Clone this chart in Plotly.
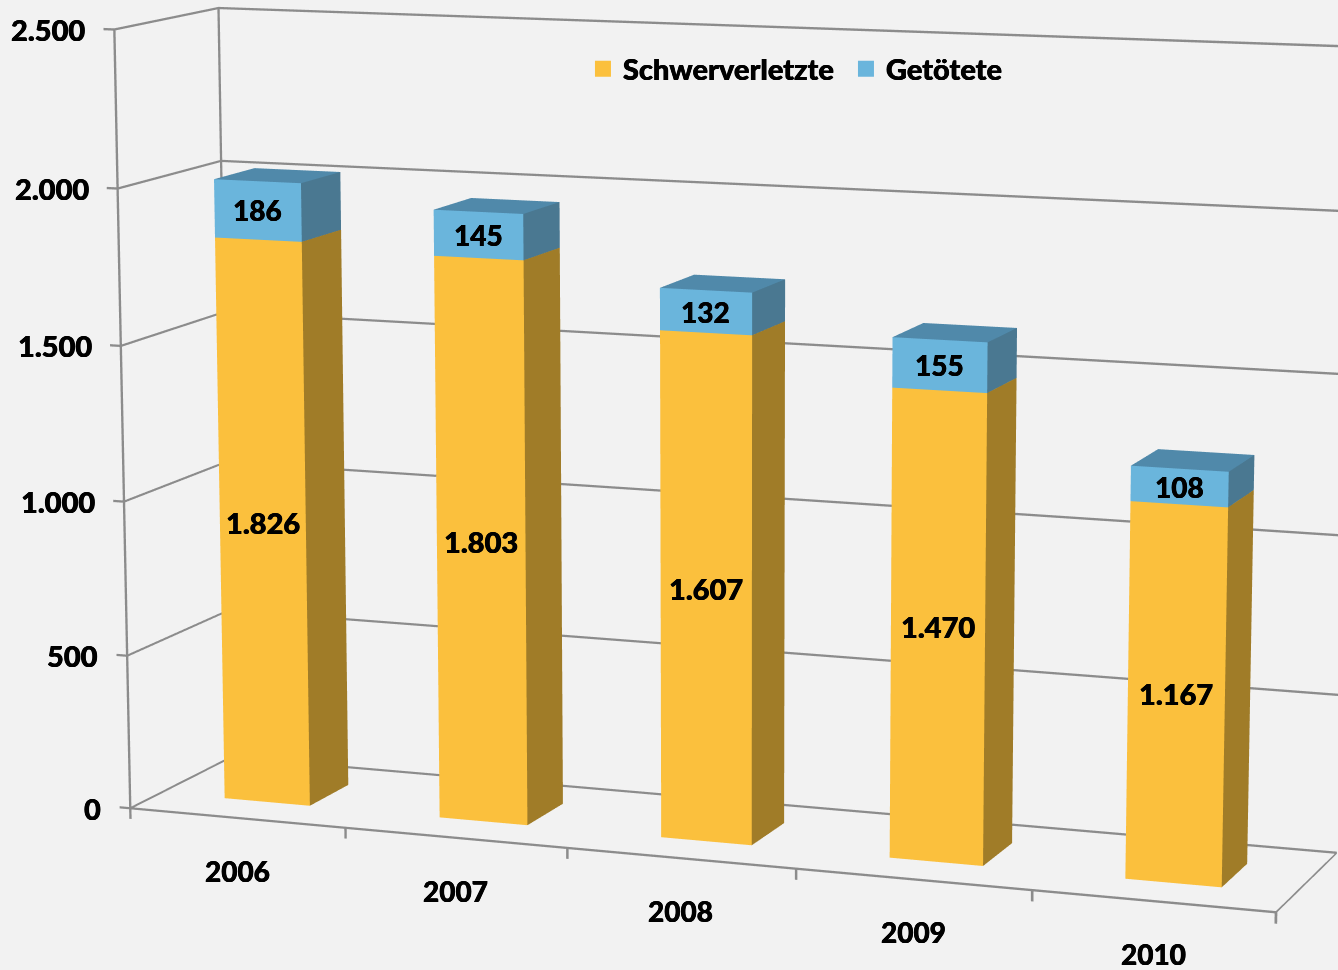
import numpy as np
import plotly.graph_objects as go

years = ["2006", "2007", "2008", "2009", "2010"]
schwerverletzte = [1826, 1803, 1607, 1470, 1167]
getoetete = [186, 145, 132, 155, 108]
z_ticks = [0, 500, 1000, 1500, 2000, 2500]

def de(v):
    return f"{v:,}".replace(",", ".")

BAR_X = (0.30, 0.70)
BAR_Y = (0.30, 0.70)
X_RANGE = (-0.06, 5.02)
Y_RANGE = (-0.01, 1.01)
Z_RANGE = (-40, 2510)

# camera pose fitted to the corners of the picture
fpx = 5413.84
M = np.array([[0.93650, 0.06127, -0.34527],
              [0.35066, -0.16920, 0.92109],
              [-0.00198, -0.98367, -0.17995]])
T = np.array([-0.09951, 0.05971, 1.0])
Lx, Ly, Lz = 0.21701, 0.04385, 0.14402
k = 1 / Lx
sx, sy, sz = Lx / 5, Ly, Lz / 2500
box_c = np.array([np.mean(X_RANGE) * sx, np.mean(Y_RANGE) * sy, np.mean(Z_RANGE) * sz])
Cc = T + M.T @ box_c
eye = -M @ Cc * k
forward = M @ np.array([0, 0, 1.0])
up = M @ np.array([0, -1.0, 0])
center = eye + forward * 4.8
fovy = 2 * np.arctan(485 / fpx)

def boxes(base, vals, front, side, top):
    xs, ys, zs, i, j, kk, fc = [], [], [], [], [], [], []
    for n, (b, v) in enumerate(zip(base, vals)):
        x0, x1 = n + BAR_X[0], n + BAR_X[1]
        y0, y1 = BAR_Y
        z0, z1 = b, b + v
        s = len(xs)
        xs += [x0, x1, x1, x0, x0, x1, x1, x0]
        ys += [y0, y0, y1, y1, y0, y0, y1, y1]
        zs += [z0, z0, z0, z0, z1, z1, z1, z1]
        quads = [((0, 1, 5), (0, 5, 4), front), ((1, 2, 6), (1, 6, 5), side), ((4, 5, 6), (4, 6, 7), top)]
        for t1, t2, c in quads:
            for t in (t1, t2):
                i.append(s + t[0]); j.append(s + t[1]); kk.append(s + t[2]); fc.append(c)
    return xs, ys, zs, i, j, kk, fc

LIGHT = dict(ambient=1, diffuse=0, specular=0, roughness=1, fresnel=0)
fig = go.Figure()

# frame of the chart, as narrow ribbons so that it keeps its stroke width
grey = "#8C8C8C"
HZ = 3.7       # half stroke, z units
HX = 0.0055    # half stroke, x units
lx, ly, lz, li, lj, lk = [], [], [], [], [], []
def ribbon(a, b, vertical=False):
    s = len(lx)
    d = (HX, 0, 0) if vertical else (0, 0, HZ)
    for p, sign in ((a, -1), (b, -1), (b, 1), (a, 1)):
        lx.append(p[0] + sign * d[0]); ly.append(p[1]); lz.append(p[2] + sign * d[2])
    li.extend([s, s]); lj.extend([s + 1, s + 2]); lk.extend([s + 2, s + 3])
top = z_ticks[-1]
for v in z_ticks:
    ribbon((-0.05, 0, v), (0, 0, v))
    ribbon((0, 0, v), (0, 1, v))
    ribbon((0, 1, v), (5, 1, v))
ribbon((0, 0, 0), (0, 0, top), True)
ribbon((0, 1, 0), (0, 1, top), True)
ribbon((0, 0, 0), (5, 0, 0))
ribbon((5, 0, 0), (5, 1, 0))
for n in range(len(years) + 1):
    ribbon((n, 0, 0), (n, 0, -35), True)
fig.add_trace(go.Mesh3d(x=lx, y=ly, z=lz, i=li, j=lj, k=lk, color=grey, flatshading=True,
                        lighting=LIGHT, hoverinfo="skip", showlegend=False))

base0 = [0] * 5
for name, base, vals, cols in [
    ("Schwerverletzte", base0, schwerverletzte, ("#FBC03D", "#A07C28", "#FBC03D")),
    ("Getötete", schwerverletzte, getoetete, ("#6AB5DC", "#4A7891", "#5089AA")),
]:
    xs, ys, zs, i, j, kk, fc = boxes(base, vals, *cols)
    fig.add_trace(go.Mesh3d(x=xs, y=ys, z=zs, i=i, j=j, k=kk, facecolor=fc, flatshading=True,
                            lighting=LIGHT, hoverinfo="skip", showlegend=False))
    fig.add_trace(go.Scatter3d(x=[None], y=[None], z=[None], mode="markers", name=name,
                               marker=dict(symbol="square", size=22, color=cols[0])))

HEAVY = "0.35px 0 0 #000, -0.35px 0 0 #000"
font = dict(family="Lato", size=29, color="#000000", weight=900, shadow=HEAVY)
font_year = dict(family="Lato", size=28, color="#000000", weight=900, shadow=HEAVY)
ann = []
for n, (a, b) in enumerate(zip(schwerverletzte, getoetete)):
    xc = n + 0.5
    ann.append(dict(x=xc, y=BAR_Y[0], z=a / 2, text=de(a), showarrow=False, yshift=1, font=font))
    ann.append(dict(x=xc, y=BAR_Y[0], z=a + b / 2, text=de(b), showarrow=False, font=font_year))
for n, y in enumerate(years):
    ann.append(dict(x=n + 0.5, y=0, z=0, text=y, showarrow=False, yshift=-53, font=font_year))
for v in z_ticks:
    ann.append(dict(x=0, y=0, z=v, text=de(v), showarrow=False, xanchor="right", xshift=-27, yshift=0, font=font))

noaxis = dict(visible=False, showgrid=False, showline=False, zeroline=False, showbackground=False,
              showticklabels=False, ticks="", showspikes=False, title="")
fig.update_layout(
    width=1338, height=970, margin=dict(l=0, r=0, t=0, b=0),
    paper_bgcolor="#F2F2F2", font=dict(family="Lato"),
    legend=dict(orientation="h", x=0.4357, y=0.929, yanchor="middle", xanchor="left",
                entrywidth=218, entrywidthmode="pixels",
                font=dict(family="Lato", size=29, color="#000000", weight=900, shadow=HEAVY),
                bgcolor="rgba(0,0,0,0)"),
    scene=dict(
        domain=dict(x=[0, 1], y=[0, 1]),
        bgcolor="#F2F2F2",
        aspectmode="manual",
        aspectratio=dict(x=(X_RANGE[1] - X_RANGE[0]) * sx * k, y=(Y_RANGE[1] - Y_RANGE[0]) * sy * k,
                         z=(Z_RANGE[1] - Z_RANGE[0]) * sz * k),
        camera=dict(projection=dict(type="perspective"),
                    eye=dict(x=eye[0], y=eye[1], z=eye[2]),
                    center=dict(x=center[0], y=center[1], z=center[2]),
                    up=dict(x=up[0], y=up[1], z=up[2])),
        xaxis=dict(range=list(X_RANGE), **noaxis),
        yaxis=dict(range=list(Y_RANGE), **noaxis),
        zaxis=dict(range=list(Z_RANGE), **noaxis),
        annotations=ann,
    ),
)

post = """
document.body.style.margin = '0';
document.body.style.overflow = 'hidden';
var gd = document.getElementById('{plot_id}');
var s = gd._fullLayout.scene._scene;
s.glplot.fovy = %f;
s.glplot.redraw();
""" % fovy
fig.write_html("out.html", post_script=post, config=dict(displayModeBar=False))
